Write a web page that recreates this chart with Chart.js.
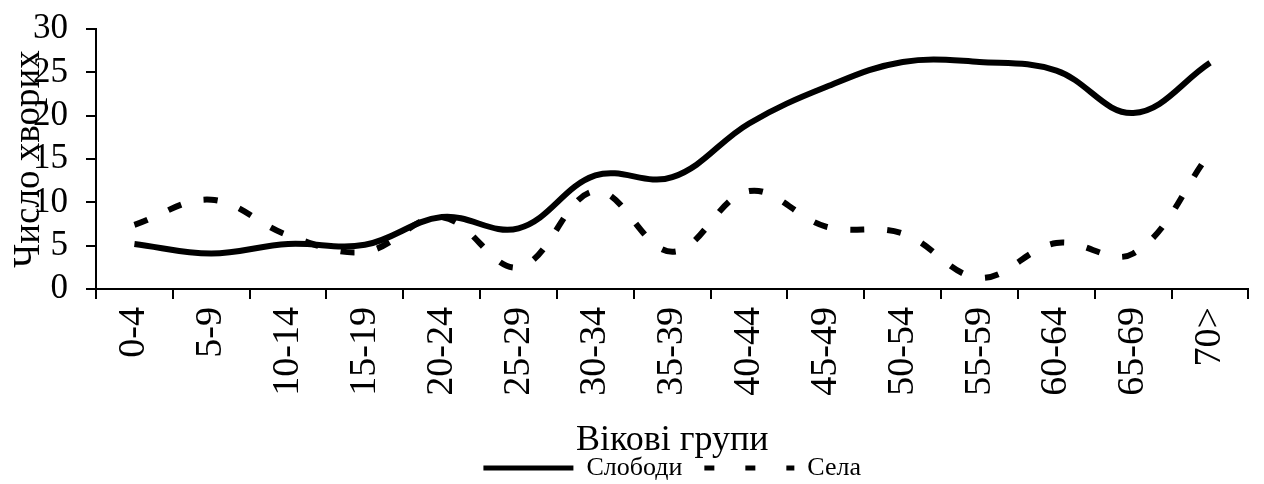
<!DOCTYPE html>
<html>
<head>
<meta charset="utf-8">
<script src="https://cdn.jsdelivr.net/npm/chart.js@4.4.0/dist/chart.umd.min.js"></script>
<style>
  html, body { margin: 0; padding: 0; background: #fff; }
  #wrap { width: 1264px; height: 484px; }
</style>
</head>
<body>
<div id="wrap"><canvas id="c" width="1264" height="484"></canvas></div>
<script>
const categories = ['0-4','5-9','10-14','15-19','20-24','25-29','30-34','35-39','40-44','45-49','50-54','55-59','60-64','65-69','70>'];
const slobodyValues = [5.2, 4.1, 5.2, 5.1, 8.3, 7.0, 13.1, 12.9, 19.1, 23.3, 26.2, 26.2, 25.2, 20.3, 26.1];
const selaValues = [7.4, 10.3, 6.2, 4.3, 8.3, 2.5, 11.3, 4.3, 11.3, 7.2, 6.4, 1.3, 5.3, 4.1, 15.7];
const seriesNames = ['Слободи', 'Села'];
const yTicks = [0, 5, 10, 15, 20, 25, 30];
const yTitle = 'Число хворих';
const xTitle = 'Вікові групи';

const FONT = '"Liberation Serif", "Times New Roman", serif';

new Chart(document.getElementById('c'), {
  type: 'line',
  data: {
    labels: categories,
    datasets: [
      {
        label: seriesNames[0],
        data: slobodyValues,
        borderColor: '#000',
        backgroundColor: '#000',
        borderWidth: 6,
        pointRadius: 0,
        tension: 0.38,
        fill: false
      },
      {
        label: seriesNames[1],
        data: selaValues,
        borderColor: '#000',
        backgroundColor: '#000',
        borderWidth: 6,
        borderDash: [14, 23],
        pointRadius: 0,
        tension: 0.38,
        fill: false
      }
    ]
  },
  options: {
    responsive: false,
    animation: false,
    devicePixelRatio: 1,
    layout: { padding: { top: 29, right: 10, bottom: -7, left: 0 } },
    plugins: {
      tooltip: { enabled: false },
      legend: {
        display: true,
        position: 'bottom',
        fullSize: false,
        labels: {
          color: '#000',
          font: { family: FONT, size: 26 },
          usePointStyle: true,
          pointStyle: 'line',
          pointStyleWidth: 90,
          padding: 22,
          generateLabels: (chart) => {
            const items = Chart.defaults.plugins.legend.labels.generateLabels(chart);
            items.forEach((it, i) => {
              it.pointStyle = 'line';
              it.lineWidth = 5;
              it.strokeStyle = '#000';
              it.fillStyle = '#000';
              it.lineDash = i === 1 ? [10, 31] : [];
              it.lineDashOffset = 0;
            });
            return items;
          }
        }
      }
    },
    scales: {
      x: {
        type: 'category',
        offset: true,
        afterFit: (s) => { s.height = 144; },
        grid: {
          offset: true,
          drawOnChartArea: false,
          drawTicks: true,
          tickLength: 10,
          color: '#000',
          lineWidth: 2
        },
        border: { display: true, color: '#000', width: 2 },
        ticks: {
          color: '#000',
          font: { family: FONT, size: 38 },
          minRotation: 90,
          maxRotation: 90,
          autoSkip: false,
          padding: 8
        },
        title: {
          display: true,
          text: xTitle,
          color: '#000',
          font: { family: FONT, size: 36, lineHeight: 0.2 },
          padding: { top: 0, bottom: -11 }
        }
      },
      y: {
        min: 0,
        max: 30,
        afterFit: (s) => { s.width = 96; s.paddingTop = 0; s.paddingBottom = 0; },
        afterBuildTicks: (s) => { s.ticks = yTicks.map(v => ({ value: v })); },
        grid: {
          drawOnChartArea: false,
          drawTicks: true,
          tickLength: 10,
          color: '#000',
          lineWidth: 2
        },
        border: { display: true, color: '#000', width: 2 },
        ticks: {
          color: '#000',
          font: { family: FONT, size: 35 },
          padding: 18,
          autoSkip: false
        },
        title: {
          display: true,
          text: yTitle,
          color: '#000',
          font: { family: FONT, size: 37 },
          padding: { top: 7, bottom: 0 }
        }
      }
    }
  }
});
</script>
</body>
</html>
